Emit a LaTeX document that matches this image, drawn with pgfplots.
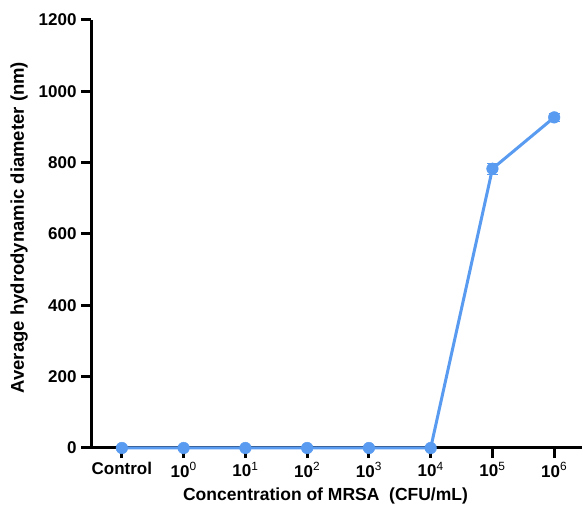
\documentclass[border=0pt]{standalone}
\usepackage{pgfplots}
\pgfplotsset{compat=1.18}
\usepackage{fontspec}
\setmainfont{Liberation Sans}
\definecolor{dlsblue}{RGB}{88,155,240}

\begin{document}
\begin{tikzpicture}[x=1bp,y=1bp]
\begin{axis}[
  at={(91bp,67bp)}, anchor=south west,
  scale only axis, width=491bp, height=428bp,
  xmin=-0.5, xmax=7.45, ymin=0, ymax=1200,
  set layers,
  axis x line*=bottom, axis y line*=left,
  axis line style={line width=3bp, black, -},
  every tick/.style={line width=3bp, black},
  tick align=outside, major tick length=10bp,
  xtick={0,...,7},
  xticklabels={Control,10\textsuperscript{\mdseries 0},10\textsuperscript{\mdseries 1},10\textsuperscript{\mdseries 2},10\textsuperscript{\mdseries 3},10\textsuperscript{\mdseries 4},10\textsuperscript{\mdseries 5},10\textsuperscript{\mdseries 6}},
  ytick={0,200,...,1200},
  /pgf/number format/assume math mode=true,
  /pgf/number format/1000 sep={},
  tick label style={font=\fontsize{17bp}{19bp}\selectfont\bfseries},
  xticklabel style={yshift=-1bp},
  yticklabel style={xshift=-1bp},
  xlabel={Concentration of MRSA\ \ (CFU/mL)},
  ylabel={Average hydrodynamic diameter (nm)},
  xlabel style={font=\fontsize{17.5bp}{20bp}\selectfont\bfseries, at={(axis description cs:0.4776,-0.112)}, anchor=center},
  ylabel style={font=\fontsize{18.5bp}{21bp}\selectfont\bfseries, at={(axis description cs:-0.1466,0.515)}, anchor=center, rotate=0},
  clip=false,
]
% mean diameter with standard deviation at each MRSA concentration,
% drawn above the axis lines so the zero segment hides the x axis
\addplot[on layer=axis foreground,
  color=dlsblue, line width=3bp, mark=*, mark size=5.8bp,
  mark options={fill=dlsblue, draw=dlsblue, line width=0.5bp},
  error bars/.cd, y dir=both, y explicit,
  error bar style={dlsblue, line width=1bp},
  error mark options={rotate=90, mark size=5.5bp, line width=1bp, dlsblue}]
  coordinates {
    (0,0) +- (0,0)
    (1,0) +- (0,0)
    (2,0) +- (0,0)
    (3,0) +- (0,0)
    (4,0) +- (0,0)
    (5,0) +- (0,0)
    (6,783) +- (0,16)
    (7,927) +- (0,12)
  };
\end{axis}
\pgfresetboundingbox
\path (0,0) rectangle (582bp,515bp);
\end{tikzpicture}
\end{document}
